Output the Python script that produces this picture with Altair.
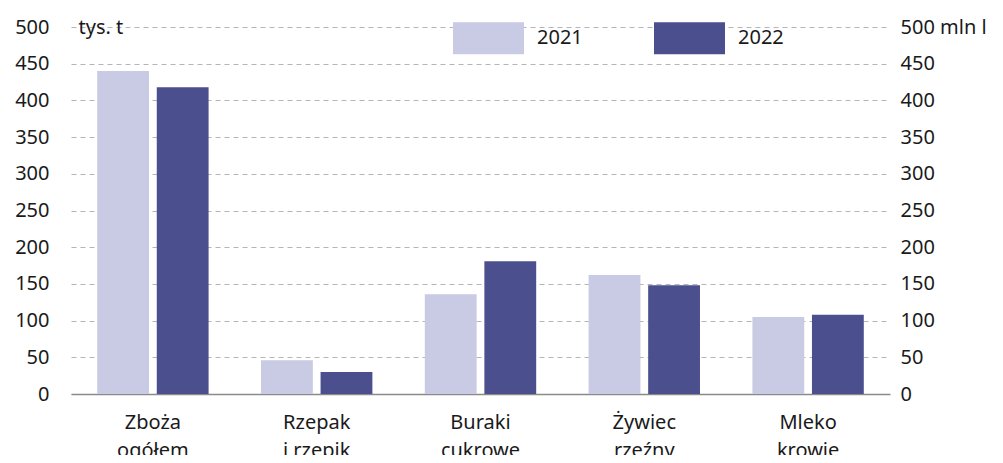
import altair as alt
import pandas as pd

categories = ["Zboża ogółem", "Rzepak i rzepik", "Buraki cukrowe", "Żywiec rzeźny", "Mleko krowie"]
values_2021 = [440, 46, 136, 162, 105]
values_2022 = [418, 30, 181, 148, 108]
years = ["2021", "2022"]
colors = ["#c9cae3", "#4b4f8e"]

rows = []
for c, a, b in zip(categories, values_2021, values_2022):
    rows.append({"cat": c, "year": "2021", "value": a})
    rows.append({"cat": c, "year": "2022", "value": b})
df = pd.DataFrame(rows)

FONT = "Noto Sans"
TXT = "#1a1a1a"

x = alt.X("cat:N", sort=categories, title=None,
          scale=alt.Scale(paddingInner=0.32, paddingOuter=0.16),
          axis=alt.Axis(labelAngle=0, ticks=False, grid=False, domain=True, domainColor="#8a8a8a",
                        domainWidth=1.5, labelPadding=18, labelFontSize=20, labelLineHeight=28,
                        labelFont=FONT, labelColor=TXT, labelBaseline="top",
                        labelExpr="split(replace(datum.label, regexp('^([^ ]+) '), '$1|'), '|')"))
xo = alt.XOffset("year:N", sort=years, scale=alt.Scale(paddingInner=0.13))
color = alt.Color("year:N", sort=years, scale=alt.Scale(domain=years, range=colors),
                  legend=alt.Legend(title=None, orient="none", direction="horizontal",
                                    legendX=382, legendY=-24.5,
                                    symbolType="M-1,-0.45L1,-0.45L1,0.45L-1,0.45Z",
                                    symbolSize=5041, symbolStrokeWidth=0, symbolOpacity=1,
                                    labelFontSize=20, labelFont=FONT, labelColor=TXT,
                                    labelOffset=13, columnPadding=71, padding=0))

yscale = alt.Scale(domain=[0, 500], nice=False)

left = alt.Chart(df).mark_bar().encode(
    x=x, xOffset=xo, color=color,
    y=alt.Y("value:Q", scale=yscale, title="tys. t",
            axis=alt.Axis(values=list(range(0, 501, 50)), orient="left", ticks=False, domain=False,
                          grid=True, gridColor="#b5b5b5", gridDash=[5, 4], gridWidth=1,
                          labelFontSize=20, labelFont=FONT, labelColor=TXT, labelPadding=22,
                          titleAngle=0, titleFontSize=20, titleFont=FONT, titleColor=TXT,
                          titleFontWeight="normal", titleAlign="left", titleBaseline="middle",
                          titleX=7, titleY=0))
)

right = alt.Chart(df).mark_bar(opacity=0).encode(
    x=x, xOffset=xo,
    y=alt.Y("value:Q", scale=yscale, title=None,
            axis=alt.Axis(values=list(range(0, 501, 50)), orient="right", ticks=False, domain=False,
                          grid=False, labelFontSize=20, labelFont=FONT, labelColor=TXT,
                          labelPadding=10,
                          labelExpr="datum.value == 500 ? '500 mln l' : datum.label"))
)

chart = alt.layer(left, right).resolve_scale(y="independent").properties(
    width=819, height=367,
    view=alt.ViewBackground(stroke="transparent", strokeWidth=0),
    autosize=alt.AutoSizeParams(type="none"),
    padding={"left": 63, "top": 19, "right": 100, "bottom": 61},
).configure_axisY(domain=False, ticks=False).configure_axisX(grid=False).configure(background="white")

chart.save("out.html", embed_options={"renderer": "svg", "actions": False})
